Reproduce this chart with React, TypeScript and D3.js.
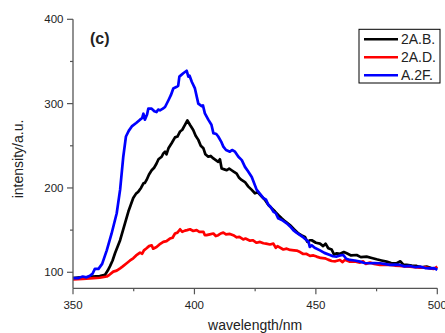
import React from "react";
import * as d3 from "d3";

const seriesNames = ["2A.B.", "2A.D.", "A.2F."];
const seriesColors = ["#000000", "#ff0000", "#0000ff"];

const xTicks = [350, 400, 450, 500];
const xMinor = [375, 425, 475];
const yTicks = [100, 200, 300, 400];
const yMinor = [150, 250, 350];

const abNm = [350,353,355.6,358,361,363.2,364.3,365.2,366.3,367.3,369.4,371.4,372.8,373.8,374.8,375.9,376.9,378,379,379.6,380.3,381.3,382.4,383.4,384.4,385.2,386.5,387.2,387.9,388.5,389.3,390.6,392,393,394.1,395,396.1,397.1,398.2,398.8,399.5,400.5,401.6,402.6,403.7,404.5,405.7,406.7,407.8,408.8,409.8,410.5,411.2,412.3,413.3,414.3,415.3,416.3,417.4,418.4,419.4,420.8,422.2,423.5,424.9,426,427.7,429,430.4,431.8,433.2,434.5,435.9,437.5,439.3,441,442.8,444,445.5,446.5,447.5,448.3,450,451.7,453,454,455.1,456.5,457.5,458.6,460,461.5,462.7,464.5,466.8,468.5,470.9,473,475,477,479.1,481,483.3,484.8,486,487.4,489.5,491.5,493.5,495.6,497.5,500];
const abVal = [93,94,94,95,95.6,97,102,107,114,122.5,138,158,172,180,188,193,195.6,200,205.5,206,209.5,216,221,224,229,234,237,241,243,240,247,253,260,261,267,269,274.7,280,274.7,272,268.8,262,257,250,247,240,237,238,235,233,231,234,223,222,221,223,221,219,217,212,209.5,207,201.6,198,193.7,195,189.7,186,180,176,172,168,164,160,156,151,146,144,142,136,138,138,135,134,131,134,128.5,127,121,122.5,122,124,122.5,120,120.5,118,118.6,117,115.4,114,112.6,111,110.7,113,109,108.7,108,107.5,106,106.7,105,104.7];

const adNm = [350,354,358.4,361,363.9,365,366.6,368,369.4,370.5,372.1,373.5,374.8,376,377.6,378.5,379.2,380.3,381.3,382.4,383,384.4,385.6,387.2,388.5,389.9,391,392,393,394.1,395,396.1,397,398.2,399.5,400.9,402,403.7,404.3,405,406.3,407.8,408.8,409.8,410.8,411.9,413,414.6,416,417.4,418.5,420.1,421,422.9,424,425.6,427,428.4,429.5,431.1,432.5,433.5,434.2,436.6,438,439.4,441,442.1,443.5,444.8,446,447.6,449,450.3,452,453.7,455,456.5,458,459.9,461,462,464,466,468.2,469.5,470.5,472.3,474,476.4,478.5,480.5,482.5,484.6,486.5,488.8,490.5,492.9,495,497,498.5,500];
const adVal = [91.7,92,93,93.5,95,97,100.8,102,104.7,107,110.7,114,116.6,120,123.3,122,126,128.5,131,132,128,130,133,136,137,140,141,146,147,151,148,149.4,150,151,149,150,148,148,144,144,145,146,143,144,146,147,145,145.5,144,141.5,142,139,140,137.5,138,135,136,134.4,134,133,134,129,131,127,128,126.5,126,125.7,124,121.7,122,119.4,120,118.6,117,116.6,115,113.4,113,114.6,112,115,112.6,113,111.5,113,110,111.5,110,108.7,109,108.7,108,107.5,107,106.7,106,105.5,106,104.7,104,106.7];

const afNm = [350,352,354,355.5,357,358,359,360.5,362,363.9,365.9,368,369.4,370.7,371.8,373,374.2,376,377.6,378.5,379,379.6,380.5,381,382.4,383.5,384.4,385.1,385.8,387,387.9,389.3,390.3,391.3,392.7,393.3,393.8,395.4,396.8,397.5,398,398.9,400.2,401.6,403,403.5,404.3,405.7,407,407.8,409,409.8,411,411.9,413,414.6,415.5,416.7,418.1,419.5,420.8,422,423.6,425.6,427,428.4,429.5,430.4,431.5,432.5,433.5,434.5,436,438,439.5,440.7,442,443.5,445,446.2,447,447.5,448.3,449.5,451.7,453.5,455.8,457,458.6,460,461.3,462.5,464,466,468.2,470,472.3,474,476.4,478,480.5,482.5,484.6,486.5,488.8,491,492.9,495,497,498.5,500];
const afVal = [93,93,95,94,96,98,104,104,110,126,146,170,198,237,261,268,273,277,281,283,288,281,287,294,294,291,290,293,292,294,296,304,310,318,320,321,332,336,339,332,333,326,318,300,297,298,288.5,281,275,265,264,261,255,249,245,243,245,243,237,233,225,220,213,198,193,188,186,180,177,172,170,164,162,158,154,150,147,144,141,138,136,130,132,129,126,123,120.5,119,118.6,120,120.5,116,114.6,114,112.6,111,110.7,111,110.7,110,108.7,109,108.7,107,107.5,106,106.7,105,104.7,105,103];

const seriesNm = [abNm, adNm, afNm];
const seriesVal = [abVal, adVal, afVal];

export default function App() {
  const W = 445, H = 333;
  const x0 = 73, x1 = 437.3, yTop = 19.3, yBot = 288.3;
  const x = d3.scaleLinear().domain([350, 500]).range([x0, x1]);
  const y = d3.scaleLinear().domain([81, 400]).range([yBot, yTop]);
  const line = d3.line<[number, number]>().x(d => x(d[0])).y(d => y(d[1]));
  const axisColor = "#555";
  const font = "Arial, 'Liberation Sans', sans-serif";

  return (
    <div style={{ position: "absolute", left: 0, top: 0 }}>
      <svg width={W} height={H} style={{ display: "block", background: "#fff" }} fontFamily={font}>
        {seriesNm.map((nm, i) => (
          <path key={i} d={line(nm.map((n, j) => [n, seriesVal[i][j]]) as [number, number][]) || ""}
            fill="none" stroke={seriesColors[i]} strokeWidth={2.7} strokeLinejoin="round" />
        ))}
        {/* axes */}
        <line x1={x0} x2={x0} y1={y(400)} y2={yBot} stroke={axisColor} strokeWidth={1.3} />
        <line x1={x0} x2={x1} y1={yBot} y2={yBot} stroke={axisColor} strokeWidth={1.3} />
        {xTicks.map(t => (
          <g key={"xt" + t}>
            <line x1={x(t)} x2={x(t)} y1={yBot} y2={yBot + 6} stroke={axisColor} strokeWidth={1.2} />
            <text x={x(t)} y={308.5} textAnchor="middle" fontSize={11.5} fill="#222">{t}</text>
          </g>
        ))}
        {xMinor.map(t => (
          <line key={"xm" + t} x1={x(t)} x2={x(t)} y1={yBot} y2={yBot + 3} stroke={axisColor} strokeWidth={1.2} />
        ))}
        {yTicks.map(t => (
          <g key={"yt" + t}>
            <line x1={x0 - 6} x2={x0} y1={y(t)} y2={y(t)} stroke={axisColor} strokeWidth={1.2} />
            <text x={63.5} y={y(t) + 4} textAnchor="end" fontSize={11.5} fill="#222">{t}</text>
          </g>
        ))}
        {yMinor.map(t => (
          <line key={"ym" + t} x1={x0 - 3} x2={x0} y1={y(t)} y2={y(t)} stroke={axisColor} strokeWidth={1.2} />
        ))}
        <text x={(x0 + x1) / 2} y={330} textAnchor="middle" fontSize={14} fill="#222">wavelength/nm</text>
        <text transform={`translate(23,159) rotate(-90)`} textAnchor="middle" fontSize={14} fill="#222">intensity/a.u.</text>
        <text x={90} y={43.5} fontSize={16} fontWeight="bold" fill="#222">(c)</text>
        {/* legend */}
        <rect x={359} y={29.3} width={81} height={53.7} fill="#fff" stroke="#000" strokeWidth={1} />
        {seriesNames.map((s, i) => (
          <g key={s}>
            <line x1={364} x2={398} y1={39.3 + i * 18} y2={39.3 + i * 18} stroke={seriesColors[i]} strokeWidth={2.6} />
            <text x={401} y={44.3 + i * 18} fontSize={14} fill="#222">{s}</text>
          </g>
        ))}
      </svg>
    </div>
  );
}
